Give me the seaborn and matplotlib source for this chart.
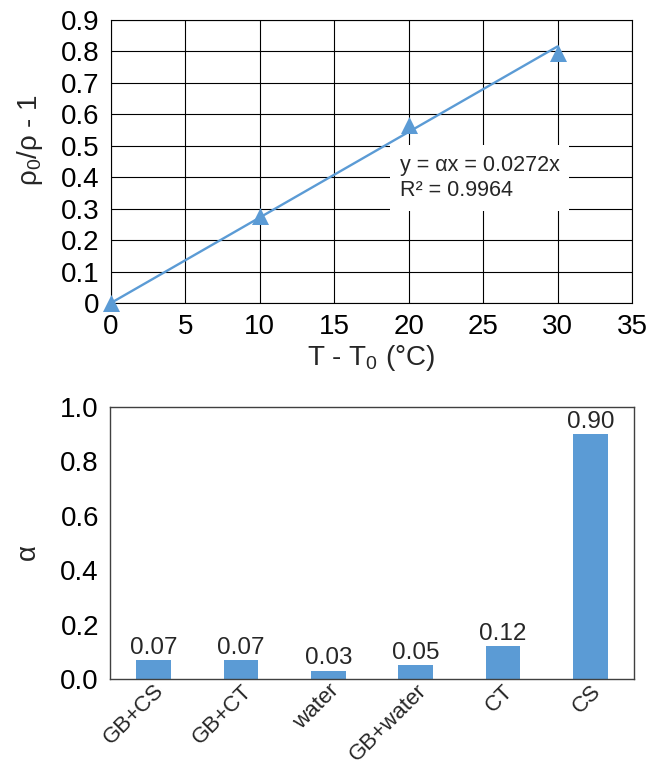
import matplotlib
matplotlib.use("Agg")
import matplotlib.pyplot as plt
import seaborn as sns
import numpy as np
import pandas as pd
from matplotlib.ticker import FuncFormatter, MultipleLocator

# ---- data ----
temp_diff = [0, 10, 20, 30]
density_ratio = [0.0, 0.277, 0.566, 0.795]
fit_slope = 0.0272
fit_r2 = 0.9964
fit_x = [0, 30]

categories = ["GB+CS", "GB+CT", "water", "GB+water", "CT", "CS"]
alpha_vals = [0.07, 0.07, 0.03, 0.05, 0.12, 0.90]

# ---- style ----
sns.set_style("white")
plt.rcParams['font.family'] = ['Liberation Sans', 'DejaVu Sans']
plt.rcParams['mathtext.default'] = 'regular'
plt.rcParams['mathtext.fontset'] = 'custom'
plt.rcParams['mathtext.rm'] = 'Liberation Sans'

blue = "#5B9BD5"
fig = plt.figure(figsize=(6.52, 7.67), dpi=100)

TICK = 20
LAB = 20
VAL = 17.5

# ---- top panel ----
ax1 = fig.add_axes([0.1702, 0.6050, 0.7991, 0.3689])
fit_df = pd.DataFrame({"x": fit_x, "y": [fit_slope * v for v in fit_x]})
pts_df = pd.DataFrame({"x": temp_diff, "y": density_ratio})
sns.lineplot(data=fit_df, x="x", y="y", ax=ax1, color=blue, linewidth=1.7, zorder=3)
sns.scatterplot(data=pts_df, x="x", y="y", ax=ax1, marker="^", s=150, color=blue,
                edgecolor=blue, linewidth=0, zorder=4, clip_on=False)
ax1.set_xlim(0, 35)
ax1.set_ylim(0, 0.9)
ax1.xaxis.set_major_locator(MultipleLocator(5))
ax1.yaxis.set_major_locator(MultipleLocator(0.1))
ax1.yaxis.set_major_formatter(FuncFormatter(lambda v, p: "0" if abs(v) < 1e-9 else f"{v:.1f}"))
ax1.grid(True, color="black", linewidth=0.8)
ax1.set_axisbelow(True)
for s in ax1.spines.values():
    s.set_color("black")
    s.set_linewidth(0.8)
ax1.tick_params(axis="both", length=0, labelsize=TICK, pad=8, colors="black")
ax1.set_xlabel("T - T$_0$ (°C)", fontsize=LAB, labelpad=2)
ax1.set_ylabel("ρ$_0$/ρ - 1", fontsize=LAB)
ax1.yaxis.set_label_coords(-0.127, 0.576)
ax1.text(19.4, 0.397, f"y = αx = {fit_slope}x\nR² = {fit_r2}", fontsize=15.5,
         ha="left", va="center", linespacing=1.25, zorder=5,
         bbox=dict(facecolor="white", edgecolor="none", boxstyle="square,pad=0.45"))

# ---- bottom panel ----
ax2 = fig.add_axes([0.1687, 0.1147, 0.8037, 0.3547])
bar_df = pd.DataFrame({"cat": categories, "alpha": alpha_vals})
sns.barplot(data=bar_df, x="cat", y="alpha", ax=ax2, color=blue, saturation=1,
            width=0.4, edgecolor="none")
ax2.set_xlim(-0.5, len(categories) - 0.5)
ax2.set_ylim(0, 1.0)
ax2.yaxis.set_major_locator(MultipleLocator(0.2))
ax2.yaxis.set_minor_locator(MultipleLocator(0.1))
ax2.yaxis.set_major_formatter(FuncFormatter(lambda v, p: f"{v:.1f}"))
ax2.tick_params(axis="y", which="both", direction="in", length=7, width=0.8,
                colors="#404040", labelcolor="black", labelsize=TICK, pad=8)
ax2.tick_params(axis="x", length=0, labelsize=16, pad=1)
plt.setp(ax2.get_xticklabels(), rotation=45, ha="right", rotation_mode="anchor")
ax2.set_xlabel("")
ax2.set_ylabel("α", fontsize=LAB)
ax2.yaxis.set_label_coords(-0.132, 0.467)
for s in ax2.spines.values():
    s.set_color("#404040")
    s.set_linewidth(1.0)
for c in ax2.containers:
    ax2.bar_label(c, fmt="%.2f", fontsize=VAL, padding=1)

fig.savefig("out.png", dpi=100)
